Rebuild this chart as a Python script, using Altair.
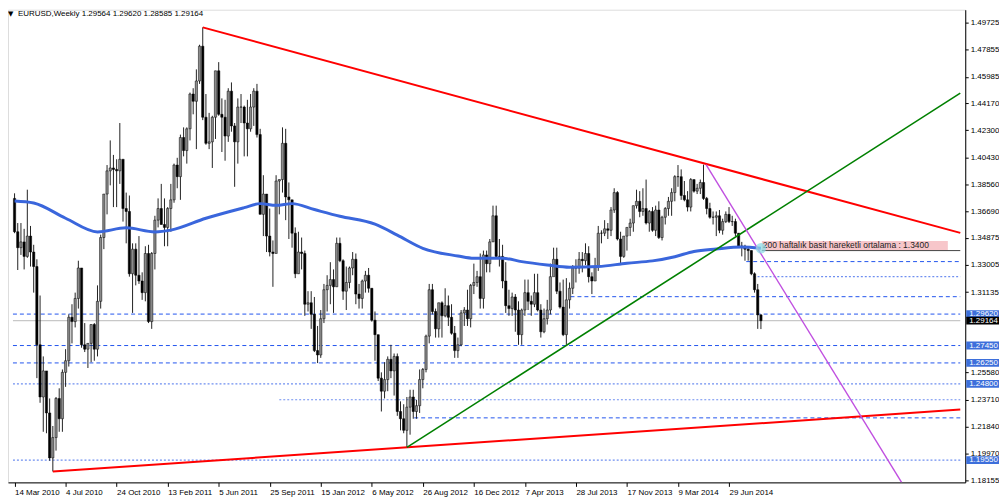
import altair as alt
import pandas as pd

# ---------------- data (EURUSD weekly) ----------------
first_open = 1.3760

highs = [
    # 2010 (from 14 Mar)
    1.3795,1.3590,1.3590,1.3550,1.3820,1.3570,1.3440,1.3340,1.3090,1.2670,1.2520,1.2380,1.2190,1.2390,1.2450,1.2580,
    1.2720,1.2960,1.3030,1.3110,1.3330,1.3260,1.2900,1.2760,1.2890,1.2900,1.3160,1.3510,1.3790,1.3990,1.4160,1.4060,
    1.4030,1.4280,1.4010,1.3800,1.3780,1.3450,1.3450,1.3500,1.3250,1.3430,
    # 2011
    1.3440,1.3390,1.3640,1.3760,1.3860,1.3760,1.3700,1.3860,1.4000,1.4040,1.4200,1.4250,1.4250,1.4490,1.4520,1.4650,
    1.4820,1.4940,1.4480,1.4350,1.4330,1.4640,1.4700,1.4450,1.4440,1.4520,1.4560,1.4280,1.4450,1.4480,1.4400,1.4440,
    1.4480,1.4520,1.4550,1.4240,1.3920,1.3790,1.3690,1.3470,1.3920,1.3890,1.4250,1.4240,1.3870,1.3720,1.3560,1.3530,
    1.3490,1.3400,1.3120,1.3120,
    # 2012
    1.3080,1.2880,1.2990,1.3170,1.3230,1.3320,1.3270,1.3490,1.3490,1.3340,1.3290,1.3290,1.3390,1.3380,1.3170,1.3200,
    1.3260,1.3280,1.3140,1.2980,1.2820,1.2560,1.2630,1.2670,1.2750,1.2690,1.2690,1.2360,1.2340,1.2390,1.2440,1.2440,
    1.2370,1.2580,1.2590,1.2820,1.3170,1.3170,1.3000,1.3040,1.3050,1.3140,1.3090,1.3030,1.2880,1.2800,1.2990,1.3010,
    1.3130,1.3170,1.3310,1.3260,1.3380,
    # 2013
    1.3400,1.3400,1.3480,1.3710,1.3710,1.3480,1.3440,1.3320,1.3130,1.3110,1.3100,1.3050,1.3000,1.3200,1.3200,1.3090,
    1.3240,1.3240,1.3030,1.3000,1.3060,1.3310,1.3420,1.3420,1.3180,1.3200,1.3210,1.3180,1.3300,1.3340,1.3390,1.3390,
    1.3450,1.3430,1.3250,1.3350,1.3570,1.3540,1.3610,1.3590,1.3700,1.3830,1.3810,1.3530,1.3500,1.3560,1.3620,1.3710,
    1.3820,1.3810,1.3830,1.3890,
    # 2014 (to 7 Sep)
    1.3680,1.3700,1.3710,1.3740,1.3640,1.3700,1.3770,1.3830,1.3920,1.3990,1.3960,1.3880,1.3810,1.3900,1.3870,1.3860,
    1.3890,1.3993,1.3770,1.3730,1.3670,1.3670,1.3680,1.3620,1.3670,1.3700,1.3640,1.3620,1.3520,1.3460,1.3440,1.3430,
    1.3400,1.3250,1.3170,1.29620,
]

lows = [
    # 2010
    1.3520,1.3266,1.3370,1.3270,1.3350,1.3290,1.3110,1.2520,1.2350,1.2150,1.2140,1.1950,1.1876,1.2020,1.2150,1.2150,
    1.2460,1.2600,1.2760,1.2870,1.3000,1.2730,1.2700,1.2590,1.2630,1.2640,1.2670,1.3000,1.3410,1.3650,1.3850,1.3700,
    1.3700,1.3860,1.3600,1.3450,1.3220,1.2970,1.3160,1.3170,1.3060,1.3050,
    # 2011
    1.2900,1.2860,1.3270,1.3560,1.3580,1.3430,1.3430,1.3530,1.3730,1.3830,1.3750,1.4050,1.4000,1.4160,1.4340,1.4100,
    1.4550,1.4300,1.4130,1.4100,1.3970,1.4170,1.4330,1.4080,1.4020,1.4150,1.4220,1.3840,1.4000,1.4280,1.4050,1.4050,
    1.4220,1.4260,1.4180,1.3650,1.3500,1.3390,1.3360,1.3150,1.3460,1.3650,1.3800,1.3610,1.3480,1.3420,1.3210,1.3240,
    1.3270,1.2950,1.2980,1.2860,
    # 2012
    1.2700,1.2624,1.2660,1.2900,1.2980,1.3030,1.2970,1.3150,1.3320,1.3060,1.2990,1.3140,1.3230,1.3030,1.3000,1.3000,
    1.3110,1.3110,1.2910,1.2640,1.2500,1.2290,1.2380,1.2430,1.2520,1.2400,1.2260,1.2160,1.2140,1.2042,1.2130,1.2240,
    1.2240,1.2280,1.2450,1.2560,1.2760,1.2960,1.2800,1.2800,1.2800,1.2940,1.2880,1.2820,1.2660,1.2660,1.2740,1.2880,
    1.2880,1.2870,1.3100,1.3150,1.3000,
    # 2013
    1.3000,1.3250,1.3250,1.3460,1.3350,1.3290,1.3140,1.2970,1.2950,1.2950,1.2840,1.2750,1.2750,1.2950,1.2990,1.2950,
    1.3010,1.2980,1.2800,1.2830,1.2890,1.2960,1.3240,1.3100,1.3000,1.2810,1.2750,1.3000,1.3100,1.3180,1.3240,1.3250,
    1.3300,1.3180,1.3100,1.3220,1.3260,1.3450,1.3500,1.3480,1.3500,1.3660,1.3470,1.3300,1.3350,1.3400,1.3500,1.3530,
    1.3690,1.3630,1.3640,1.3580,
    # 2014
    1.3530,1.3530,1.3500,1.3480,1.3470,1.3580,1.3640,1.3640,1.3740,1.3840,1.3750,1.3740,1.3670,1.3670,1.3800,1.3790,
    1.3790,1.3750,1.3650,1.3620,1.3580,1.3500,1.3520,1.3510,1.3590,1.3590,1.3570,1.3500,1.3420,1.3360,1.3330,1.3330,
    1.3230,1.3110,1.2860,1.28585,
]

closes = [
    # 2010
    1.3530,1.3420,1.3460,1.3360,1.3500,1.3390,1.3290,1.2750,1.2390,1.2570,1.2280,1.1970,1.2110,1.2380,1.2240,1.2560,
    1.2640,1.2940,1.2910,1.3070,1.3280,1.2750,1.2720,1.2760,1.2890,1.2720,1.3050,1.3490,1.3790,1.3950,1.3970,1.3960,
    1.3950,1.4030,1.3690,1.3670,1.3240,1.3410,1.3230,1.3190,1.3110,1.3380,
    # 2011
    1.2910,1.3380,1.3610,1.3690,1.3580,1.3560,1.3690,1.3750,1.3990,1.3910,1.4180,1.4090,1.4240,1.4480,1.4430,1.4570,
    1.4810,1.4320,1.4140,1.4150,1.4320,1.4640,1.4340,1.4320,1.4190,1.4500,1.4260,1.4150,1.4390,1.4390,1.4280,1.4240,
    1.4390,1.4500,1.4200,1.3650,1.3790,1.3500,1.3390,1.3380,1.3880,1.3890,1.4140,1.3770,1.3750,1.3520,1.3240,1.3390,
    1.3380,1.3030,1.3040,1.2960,
    # 2012
    1.2710,1.2680,1.2930,1.3130,1.3160,1.3200,1.3150,1.3450,1.3330,1.3120,1.3180,1.3280,1.3340,1.3100,1.3070,1.3190,
    1.3230,1.3140,1.2920,1.2820,1.2520,1.2430,1.2510,1.2650,1.2570,1.2670,1.2290,1.2240,1.2160,1.2320,1.2390,1.2290,
    1.2330,1.2510,1.2580,1.2810,1.3130,1.2980,1.2860,1.3040,1.2950,1.3020,1.2940,1.2830,1.2710,1.2750,1.2970,1.2990,
    1.2930,1.3160,1.3180,1.3220,1.3070,
    # 2013
    1.3370,1.3310,1.3460,1.3640,1.3360,1.3360,1.3190,1.3020,1.3000,1.3080,1.2990,1.2820,1.2990,1.3110,1.3050,1.3030,
    1.3110,1.2990,1.2840,1.2930,1.2990,1.3220,1.3340,1.3120,1.3010,1.2820,1.3060,1.3140,1.3280,1.3280,1.3340,1.3330,
    1.3380,1.3220,1.3190,1.3290,1.3520,1.3520,1.3550,1.3540,1.3680,1.3800,1.3480,1.3360,1.3500,1.3560,1.3590,1.3710,
    1.3740,1.3670,1.3690,1.3590,
    # 2014
    1.3670,1.3540,1.3680,1.3490,1.3630,1.3690,1.3740,1.3800,1.3910,1.3910,1.3780,1.3750,1.3700,1.3890,1.3810,1.3830,
    1.3870,1.3760,1.3690,1.3630,1.3630,1.3640,1.3540,1.3600,1.3650,1.3600,1.3600,1.3520,1.3430,1.3430,1.3410,1.3400,
    1.3240,1.3130,1.29564,1.29164,
]

# 200-week simple moving average (week index, price)
sma_idx = [0, 6, 16, 26, 35, 44, 49, 60, 72, 77, 82, 87, 94, 102, 113, 120, 128, 139, 144, 153,
           159, 167, 174, 183, 192, 200, 207, 213, 220, 228, 234]
sma_val = [1.3742, 1.3728, 1.3623, 1.3529, 1.3557, 1.3529, 1.3541, 1.3623, 1.3696, 1.3724, 1.3712,
           1.3724, 1.3683, 1.3637, 1.3582, 1.3507, 1.3416, 1.3363, 1.3347, 1.3347, 1.3324, 1.3301,
           1.3285, 1.3290, 1.3313, 1.3329, 1.3358, 1.3394, 1.3411, 1.3424, 1.3416]

# x-axis labels every 16 weeks
x_tick_idx = [0, 16, 32, 48, 64, 80, 96, 112, 128, 144, 160, 176, 192, 208, 224]
x_tick_labels = ["14 Mar 2010", "4 Jul 2010", "24 Oct 2010", "13 Feb 2011", "5 Jun 2011",
                 "25 Sep 2011", "15 Jan 2012", "6 May 2012", "26 Aug 2012", "16 Dec 2012",
                 "7 Apr 2013", "28 Jul 2013", "17 Nov 2013", "9 Mar 2014", "29 Jun 2014"]

# y-axis labels
y_ticks = [1.49725, 1.47855, 1.45985, 1.44170, 1.42300, 1.40430, 1.38560, 1.36690, 1.34875,
           1.33005, 1.31135, 1.25580, 1.23710, 1.21840, 1.19970, 1.18155]
hl_levels = [1.29620, 1.27450, 1.26250, 1.24800, 1.19550]
cur_price = 1.29164

# horizontal support / resistance lines
lvl_price = [1.29620, 1.27450, 1.26250, 1.24800, 1.19550, 1.30820, 1.33240, 1.32210, 1.23710, 1.22460]
lvl_start = [-0.5, -0.5, -0.5, -0.5, -0.5, 174.3, 229.4, 231.7, 83.0, 125.3]
lvl_style = ["dash", "dash", "dash", "dot", "dot", "dash", "dash", "dot", "dot", "dash"]

# trend lines (week index, price) -> (week index, price)
tl_x = [59, 12, 123, 216.8]
tl_y = [1.4940, 1.1876, 1.2042, 1.3993]
tl_x2 = [296.5, 296.5, 296.5, 278.1]
tl_y2 = [1.3522, 1.2303, 1.4486, 1.1801]
tl_color = ["#ff0000", "#ff0000", "#008000", "#c04fe0"]
tl_width = [2.0, 2.0, 1.6, 1.4]

ma_label = "200 haftalık basit hareketli ortalama : 1.3400"
ma_value = 1.3400
title_txt = "EURUSD,Weekly  1.29564 1.29620 1.28585 1.29164"

# ---------------- build ----------------
n = len(closes)
assert len(highs) == n and len(lows) == n
opens = [first_open] + closes[:-1]
df = pd.DataFrame({"i": list(range(n)), "open": opens, "high": highs, "low": lows, "close": closes})
df["dir"] = ["up" if c >= o else "down" for o, c in zip(opens, closes)]

W, H = 964, 476
FONT = "Liberation Sans"
xs = alt.Scale(domain=[-0.5, 296.5], nice=False, zero=False)
ys = alt.Scale(domain=[1.18010, 1.50616], nice=False, zero=False)

label_expr = "[" + ",".join("'" + s + "'" for s in x_tick_labels) + "][round(datum.value/16)]"

x_axis = alt.Axis(values=x_tick_idx, labelExpr=label_expr, labelAlign="left", labelPadding=2,
                  tickSize=4, tickColor="black", domainColor="black", labelColor="black",
                  labelFontSize=8, labelFont=FONT, grid=False, title=None, labelOverlap=False,
                  labelFlush=False)
y_axis = alt.Axis(orient="right", values=y_ticks, format=".5f", labelFontSize=8, labelFont=FONT,
                  tickSize=3, tickColor="black", domainColor="black", labelColor="black",
                  labelPadding=2, grid=False, title=None, labelOverlap=False)


def X(f):
    return alt.X(f, scale=xs, axis=x_axis, title=None)


def Y(f):
    return alt.Y(f, scale=ys, axis=y_axis, title=None)


base = alt.Chart(df)

wicks = base.mark_rule(color="#222", strokeWidth=1, clip=True).encode(
    x=X("i:Q"), y=Y("low:Q"), y2="high:Q",
)
bodies = base.mark_bar(size=2.3, stroke="#000", strokeWidth=0.5, clip=True).encode(
    x=X("i:Q"), y=Y("open:Q"), y2="close:Q",
    fill=alt.Fill("dir:N", scale=alt.Scale(domain=["up", "down"], range=["#8c8c8c", "#000000"]),
                  legend=None),
)

lv = pd.DataFrame({"p": lvl_price, "s": lvl_start, "e": [296.5] * len(lvl_price), "st": lvl_style})
lv_dash = alt.Chart(lv).transform_filter("datum.st == 'dash'").mark_rule(
    color="#2255ee", strokeWidth=1, strokeDash=[4, 3], clip=True).encode(
    x=X("s:Q"), x2="e:Q", y=Y("p:Q"))
lv_dot = alt.Chart(lv).transform_filter("datum.st == 'dot'").mark_rule(
    color="#6f8ff0", strokeWidth=1.2, strokeDash=[2, 2], clip=True).encode(
    x=X("s:Q"), x2="e:Q", y=Y("p:Q"))

cur = alt.Chart(pd.DataFrame({"p": [cur_price], "s": [-0.5], "e": [296.5]})).mark_rule(
    color="#c8c8c8", strokeWidth=1.2, clip=True).encode(
    x=X("s:Q"), x2="e:Q", y=Y("p:Q"))

sma = alt.Chart(pd.DataFrame({"i": sma_idx, "v": sma_val})).mark_line(
    color="#3a66dc", strokeWidth=3, interpolate="monotone", clip=True).encode(
    x=X("i:Q"), y=Y("v:Q"))

tl = pd.DataFrame({"x": tl_x, "y": tl_y, "x2": tl_x2, "y2": tl_y2, "c": tl_color, "w": tl_width})
trend = alt.Chart(tl).mark_rule(clip=True).encode(
    x=X("x:Q"), x2="x2:Q", y=Y("y:Q"), y2="y2:Q",
    color=alt.Color("c:N", scale=None),
    strokeWidth=alt.StrokeWidth("w:Q", scale=None),
)

ma_df = pd.DataFrame({"s": [234.3], "e": [296.5], "te": [292.6], "p": [ma_value],
                      "top": [ma_value + 0.0066], "t": [ma_label]})
ma_bg = alt.Chart(ma_df).mark_rect(color="#f7c6ca", clip=True).encode(
    x=X("s:Q"), x2="te:Q", y=Y("p:Q"), y2="top:Q")
ma_line = alt.Chart(ma_df).mark_rule(color="#444", strokeWidth=1, clip=True).encode(
    x=X("s:Q"), x2="e:Q", y=Y("p:Q"))
ma_txt = alt.Chart(ma_df).mark_text(align="left", baseline="bottom", font=FONT, fontSize=8.5,
                                     color="#222", dx=1, dy=-1).encode(
    x=X("s:Q"), y=Y("p:Q"), text="t:N")
ma_dot = alt.Chart(pd.DataFrame({"i": [sma_idx[-1]], "v": [sma_val[-1]]})).mark_point(
    filled=True, size=110, color="#8fdbe4", opacity=0.75).encode(
    x=X("i:Q"), y=Y("v:Q"))

box_df = pd.DataFrame({"v": hl_levels + [cur_price],
                       "k": ["hl"] * len(hl_levels) + ["cur"]})
box_df["top"] = box_df["v"] + 0.0027
box_df["bot"] = box_df["v"] - 0.0027
boxes = alt.Chart(box_df).mark_rect().encode(
    x=alt.value(W + 1), x2=alt.value(W + 34),
    y=Y("top:Q"), y2="bot:Q",
    color=alt.Color("k:N", scale=alt.Scale(domain=["hl", "cur"], range=["#3d6fdb", "#000000"]),
                    legend=None),
)
box_txt = alt.Chart(box_df).mark_text(align="left", baseline="middle", font=FONT, fontSize=8,
                                      color="white").encode(
    x=alt.value(W + 4), y=Y("v:Q"), text=alt.Text("v:Q", format=".5f"))

title_df = pd.DataFrame({"t": [title_txt], "m": ["\u25BC"]})
tri = alt.Chart(title_df).mark_text(align="left", baseline="middle", font="DejaVu Sans",
                                    fontSize=7, color="black").encode(
    x=alt.value(0), y=alt.value(4), text="m:N")
ttl = alt.Chart(title_df).mark_text(align="left", baseline="middle", font=FONT, fontSize=8,
                                    color="black").encode(
    x=alt.value(10), y=alt.value(4), text="t:N")

chart = alt.layer(
    lv_dash, lv_dot, cur, wicks, bodies, sma, trend, ma_bg, ma_line, ma_txt, ma_dot,
    boxes, box_txt, tri, ttl
).properties(
    width=W, height=H, padding={"left": 0, "top": 0, "right": 0, "bottom": 0}
).configure_view(
    stroke="#666", strokeWidth=1
).configure(background="white")

chart.save("out.html", embed_options={"renderer": "svg", "actions": False})
